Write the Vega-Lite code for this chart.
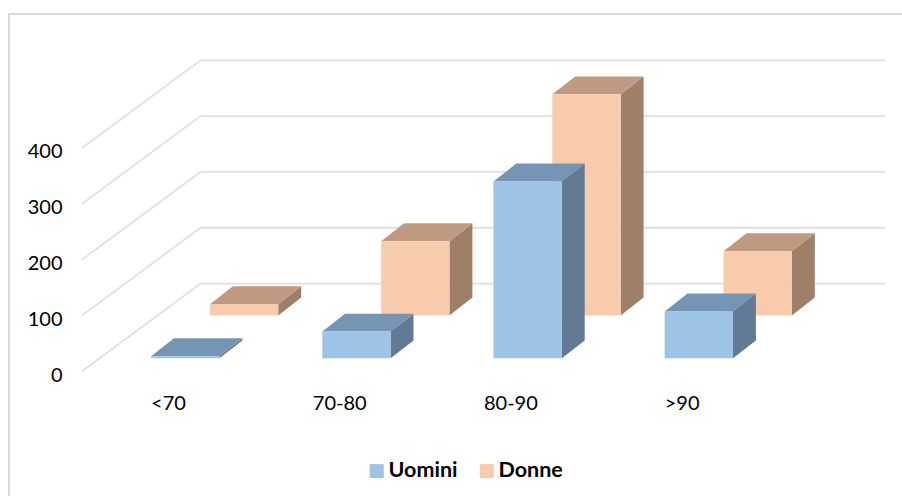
{
"$schema":"https://vega.github.io/schema/vega-lite/v6.json",
"width":894,"height":482,"padding":{"left":8,"top":14,"right":0,"bottom":0},"autosize":{"type":"none"},
"background":"white",
"view":{"stroke":null,"fill":null},
"config":{"font":"Lato"},
"datasets":{
"bars":[
{"fascia":"<70","i":0,"serie":"Uomini","valore":4},
{"fascia":"70-80","i":1,"serie":"Uomini","valore":48},
{"fascia":"80-90","i":2,"serie":"Uomini","valore":317},
{"fascia":">90","i":3,"serie":"Uomini","valore":84},
{"fascia":"<70","i":0,"serie":"Donne","valore":20},
{"fascia":"70-80","i":1,"serie":"Donne","valore":133},
{"fascia":"80-90","i":2,"serie":"Donne","valore":396},
{"fascia":">90","i":3,"serie":"Donne","valore":115}
],
"griglia":[{"t":0},{"t":100},{"t":200},{"t":300},{"t":400}]
},
"layer":[
{"data":{"name":"griglia"},
"transform":[
{"calculate":"-0.502","as":"p1"},{"calculate":"0.19","as":"p2"},{"calculate":"4.19","as":"p3"},
{"fold":["p1","p2","p3"],"as":["k","xv"]},
{"calculate":"datum.k=='p1'?datum.t:datum.t+157","as":"yv"}],
"mark":{"type":"line","stroke":"#E0E0E0","strokeWidth":1.8,"interpolate":"linear"},
"encoding":{"x":{"field":"xv","type":"quantitative","scale":{"domain":[-0.9346,4.2874],"nice":false,"zero":false},
"axis":{"orient":"bottom","values":[0,1,2,3],"title":null,"grid":false,"domain":false,"ticks":false,"offset":-105,"labelFontSize":20,"labelColor":"#000000","labelExpr":"['<70','70-80','80-90','>90'][datum.value]"}},
"y":{"field":"yv","type":"quantitative","scale":{"domain":[-223.6,640],"nice":false,"zero":false},
"axis":{"orient":"left","values":[0,100,200,300,400],"title":null,"grid":false,"domain":false,"ticks":false,"offset":-54,"labelFontSize":20,"labelColor":"#000000","labelPadding":0,"labelOffset":4}},
"detail":{"field":"t"},"order":{"field":"xv"}}},

{"data":{"values":[{"bordo":"sinistra"}]},"mark":{"type":"rule","stroke":"#D9D9D9","strokeWidth":2},"encoding":{"x":{"datum":-0.9287,"type":"quantitative"}}},
{"data":{"values":[{"bordo":"alto"}]},"mark":{"type":"rule","stroke":"#D9D9D9","strokeWidth":2},"encoding":{"y":{"datum":640,"type":"quantitative"}}},

{"data":{"name":"bars"},"transform":[{"filter":"datum.serie=='Donne'"},
{"calculate":"datum.i+0.245+0.399","as":"a"},{"calculate":"datum.i+0.245+0.399+0.134","as":"b"},
{"fold":["a","b"],"as":["k","xv"]},
{"calculate":"(datum.k=='a'?100:132)+datum.valore","as":"yt"},{"calculate":"datum.k=='a'?100:132","as":"yb"}],
"mark":{"type":"area","fill":"#A07F69"},
"encoding":{"x":{"field":"xv","type":"quantitative"},"y":{"field":"yt","type":"quantitative","stack":null},"y2":{"field":"yb"},"detail":{"field":"i"}}},

{"data":{"name":"bars"},"transform":[{"filter":"datum.serie=='Donne'"},
{"calculate":"datum.i+0.245","as":"a"},{"calculate":"datum.i+0.245+0.134","as":"b"},{"calculate":"datum.i+0.245+0.399","as":"c"},{"calculate":"datum.i+0.245+0.533","as":"d"},
{"fold":["a","b","c","d"],"as":["k","xv"]},
{"calculate":"100+datum.valore+((datum.k=='a')?0:32)","as":"yt"},{"calculate":"100+datum.valore+((datum.k=='d')?32:0)","as":"yb"}],
"mark":{"type":"area","fill":"#BF9A80"},
"encoding":{"x":{"field":"xv","type":"quantitative"},"y":{"field":"yt","type":"quantitative","stack":null},"y2":{"field":"yb"},"detail":{"field":"i"}}},

{"data":{"name":"bars"},"transform":[{"filter":"datum.serie=='Donne'"},
{"calculate":"datum.i+0.245","as":"x0"},{"calculate":"datum.i+0.245+0.399","as":"x1"},{"calculate":"100+datum.valore","as":"yt"},{"calculate":"100","as":"yb"}],
"mark":{"type":"rect"},
"encoding":{"x":{"field":"x0","type":"quantitative"},"x2":{"field":"x1"},"y":{"field":"yt","type":"quantitative"},"y2":{"field":"yb"},
"color":{"field":"serie","type":"nominal","sort":["Uomini","Donne"],"scale":{"domain":["Uomini","Donne"],"range":["#9DC3E6","#F7CBAC"]},
"legend":{"title":null,"orient":"none","direction":"horizontal","legendX":358,"legendY":446,"symbolType":"square","symbolSize":196,"symbolOpacity":1,"symbolStrokeWidth":0,"labelFontSize":21.5,"labelFontWeight":"bold","labelColor":"#000000","columnPadding":18,"labelOffset":1}}}},

{"data":{"name":"bars"},"transform":[{"filter":"datum.serie=='Uomini'"},
{"calculate":"datum.i-0.099+0.399","as":"a"},{"calculate":"datum.i-0.099+0.399+0.134","as":"b"},
{"fold":["a","b"],"as":["k","xv"]},
{"calculate":"(datum.k=='a'?23:55)+datum.valore","as":"yt"},{"calculate":"datum.k=='a'?23:55","as":"yb"}],
"mark":{"type":"area","fill":"#627A94"},
"encoding":{"x":{"field":"xv","type":"quantitative"},"y":{"field":"yt","type":"quantitative","stack":null},"y2":{"field":"yb"},"detail":{"field":"i"}}},

{"data":{"name":"bars"},"transform":[{"filter":"datum.serie=='Uomini'"},
{"calculate":"datum.i-0.099","as":"a"},{"calculate":"datum.i-0.099+0.134","as":"b"},{"calculate":"datum.i-0.099+0.399","as":"c"},{"calculate":"datum.i-0.099+0.533","as":"d"},
{"fold":["a","b","c","d"],"as":["k","xv"]},
{"calculate":"23+datum.valore+((datum.k=='a')?0:32)","as":"yt"},{"calculate":"23+datum.valore+((datum.k=='d')?32:0)","as":"yb"}],
"mark":{"type":"area","fill":"#7695B5"},
"encoding":{"x":{"field":"xv","type":"quantitative"},"y":{"field":"yt","type":"quantitative","stack":null},"y2":{"field":"yb"},"detail":{"field":"i"}}},

{"data":{"name":"bars"},"transform":[{"filter":"datum.serie=='Uomini'"},
{"calculate":"datum.i-0.099","as":"x0"},{"calculate":"datum.i-0.099+0.399","as":"x1"},{"calculate":"23+datum.valore","as":"yt"},{"calculate":"23","as":"yb"}],
"mark":{"type":"rect"},
"encoding":{"x":{"field":"x0","type":"quantitative"},"x2":{"field":"x1"},"y":{"field":"yt","type":"quantitative"},"y2":{"field":"yb"},
"color":{"field":"serie","type":"nominal"}}}
]
}
